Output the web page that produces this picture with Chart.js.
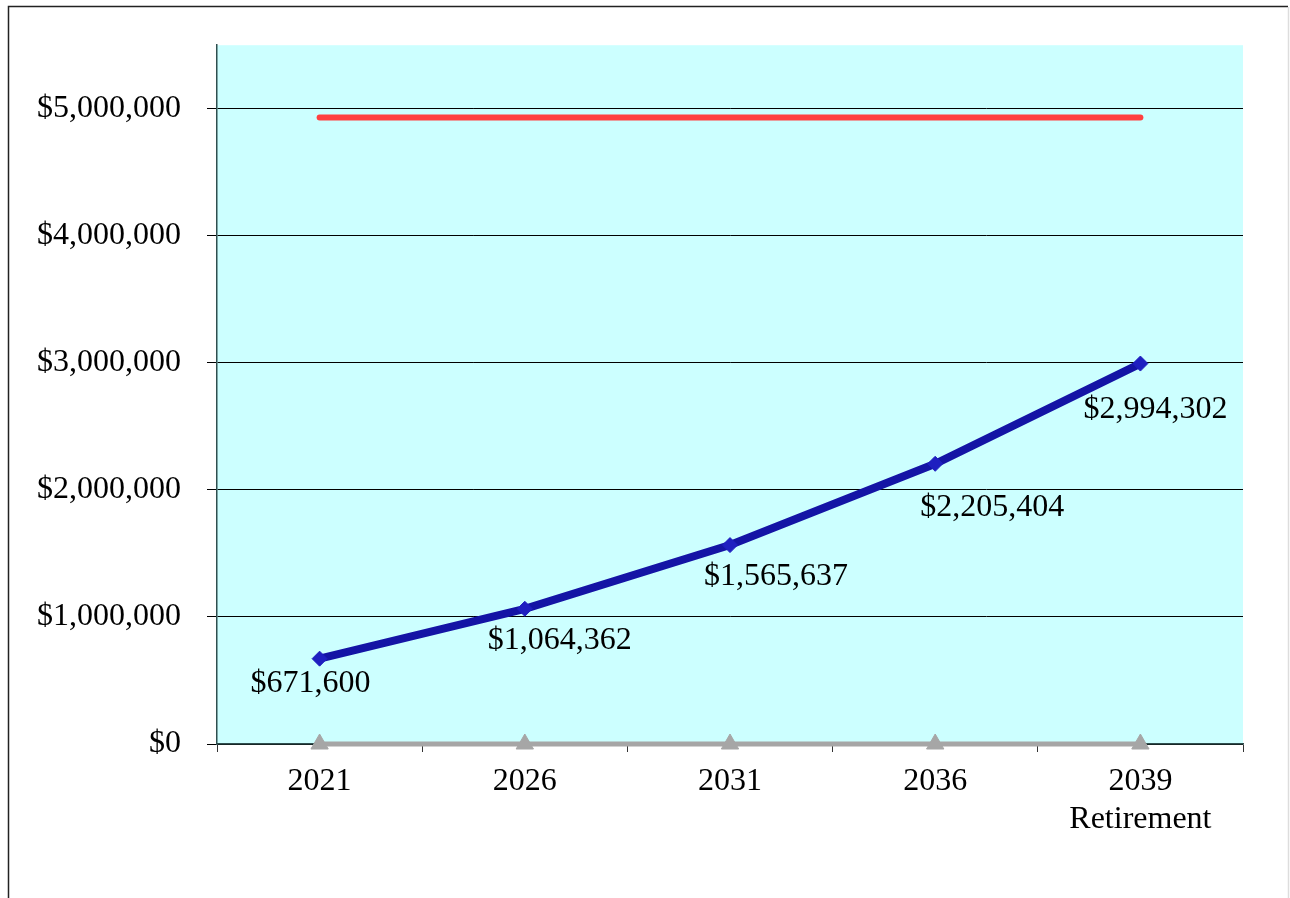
<!DOCTYPE html>
<html>
<head>
<meta charset="utf-8">
<script src="https://cdn.jsdelivr.net/npm/chart.js@4"></script>
<style>
  html, body { margin: 0; padding: 0; background: #fff; }
  #wrap { width: 1290px; height: 898px; }
</style>
</head>
<body>
<div id="wrap"><canvas id="grafico" width="1290" height="898"></canvas></div>
<script>
const anios = [['2021'], ['2026'], ['2031'], ['2036'], ['2039', 'Retirement']];
const ahorros = [671600, 1064362, 1565637, 2205404, 2994302];
const meta = [4930000, 4930000, 4930000, 4930000, 4930000];
const base = [0, 0, 0, 0, 0];
const ticksY = [0, 1000000, 2000000, 3000000, 4000000, 5000000];
const maxY = 5500000;

const fuente = '"Liberation Serif", "Times New Roman", serif';

// desplazamiento de cada etiqueta respecto a su punto (px)
const desplazamientos = [[-9, 25], [35, 32], [46, 32], [57, 44], [15, 46]];

const dinero = v => '$' + Math.round(v).toLocaleString('en-US');

// fondo celeste del área de trazado y marco exterior
const fondo = {
  id: 'fondo',
  beforeDraw(chart) {
    const { ctx, chartArea: a } = chart;
    ctx.save();
    ctx.fillStyle = '#ccffff';
    ctx.fillRect(a.left, a.top, a.right - a.left, a.bottom - a.top);
    ctx.strokeStyle = '#222';
    ctx.lineWidth = 1.5;
    ctx.beginPath();
    ctx.moveTo(8.5, 898);
    ctx.lineTo(8.5, 6.5);
    ctx.lineTo(1288, 6.5);
    ctx.stroke();
    ctx.strokeStyle = '#ddd';
    ctx.beginPath();
    ctx.moveTo(1288.5, 7);
    ctx.lineTo(1288.5, 898);
    ctx.stroke();
    ctx.restore();
  }
};

// etiquetas con el valor de cada punto de la serie azul
const etiquetas = {
  id: 'etiquetas',
  afterDatasetsDraw(chart) {
    const { ctx } = chart;
    const puntos = chart.getDatasetMeta(2).data;
    ctx.save();
    ctx.font = '32px ' + fuente;
    ctx.fillStyle = '#000';
    ctx.textAlign = 'center';
    ctx.textBaseline = 'middle';
    puntos.forEach((p, i) => {
      const [dx, dy] = desplazamientos[i];
      ctx.fillText(dinero(ahorros[i]), p.x + dx, p.y + dy);
    });
    ctx.restore();
  }
};

new Chart(document.getElementById('grafico'), {
  type: 'line',
  data: {
    labels: anios,
    datasets: [
      {
        data: base,
        clip: false,
        borderColor: '#a6a6a6',
        borderWidth: 5,
        pointStyle: 'triangle',
        pointRadius: 10,
        pointBackgroundColor: '#a6a6a6',
        pointBorderColor: '#a6a6a6',
        pointBorderWidth: 1
      },
      {
        data: meta,
        borderColor: '#ff4040',
        borderWidth: 6,
        borderCapStyle: 'round',
        pointRadius: 0
      },
      {
        data: ahorros,
        borderColor: '#1414a5',
        borderWidth: 8,
        pointStyle: 'rectRot',
        pointRadius: 7.5,
        pointBackgroundColor: '#1f1fc0',
        pointBorderColor: '#1f1fc0',
        pointBorderWidth: 1
      }
    ]
  },
  options: {
    responsive: false,
    animation: false,
    layout: { padding: { left: 0, top: 45, right: 47, bottom: 0 } },
    plugins: {
      legend: { display: false },
      tooltip: { enabled: false }
    },
    scales: {
      x: {
        offset: true,
        afterFit(scale) { scale.height = 154; },
        grid: {
          offset: true,
          drawOnChartArea: false,
          tickLength: 8,
          color: '#333'
        },
        border: { color: '#2f4f4f', width: 1.5 },
        ticks: {
          padding: 10,
          color: '#000',
          font: { family: fuente, size: 32, lineHeight: 1.2 },
          maxRotation: 0
        }
      },
      y: {
        min: 0,
        max: maxY,
        afterFit(scale) { scale.width = 217; },
        afterBuildTicks(scale) {
          scale.ticks = ticksY.map(v => ({ value: v }));
        },
        grid: {
          color: '#000',
          lineWidth: 1,
          tickLength: 10
        },
        border: { color: '#2f4f4f', width: 1.5 },
        ticks: {
          padding: 26,
          color: '#000',
          font: { family: fuente, size: 32 },
          callback: v => dinero(v)
        }
      }
    }
  },
  plugins: [fondo, etiquetas]
});
</script>
</body>
</html>
